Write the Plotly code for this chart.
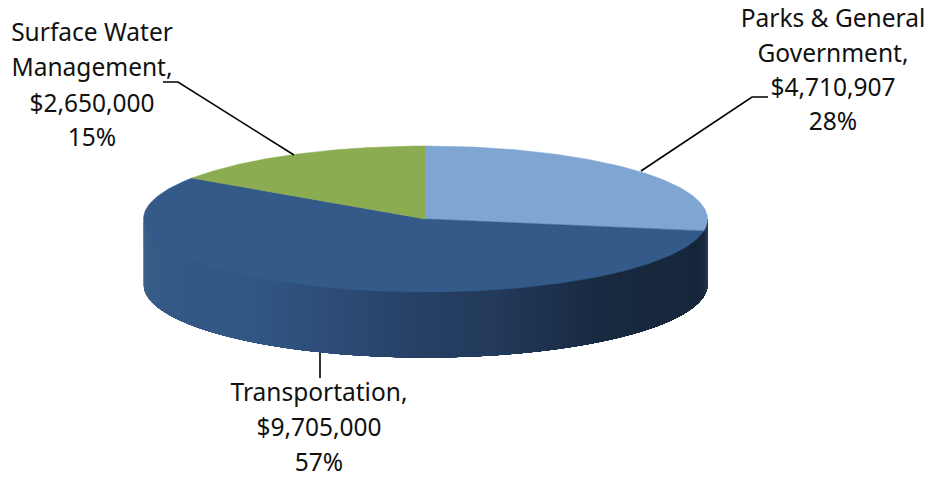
import numpy as np
import plotly.graph_objects as go

categories = ["Parks & General Government", "Transportation", "Surface Water Management"]
values = [4710907, 9705000, 2650000]
colors = ["#7FA6D3", "#335A88", "#8CAC52"]

label_lines = [
    ["Parks & General", "Government,", "$4,710,907", "28%"],
    ["Transportation,", "$9,705,000", "57%"],
    ["Surface Water", "Management,", "$2,650,000", "15%"],
]
label_x = [833, 319, 92]
label_y = [[21, 56, 90, 124], [395, 430, 465], [35, 70, 106, 140]]

leader_x = [[768, 752, 641], [320, 320], [163, 178, 294]]
leader_y = [[97, 97, 171], [353, 378], [82, 82, 155]]

# wall shading, stops along the horizontal extent of the pie
wall_stop_x = [143, 150, 165, 250, 300, 430, 500, 600, 698, 704, 708]
wall_stop_r = [62, 56, 52, 50, 47, 38, 34, 24, 22, 26, 48]
wall_stop_g = [98, 92, 89, 87, 80, 63, 57, 42, 38, 42, 66]
wall_stop_b = [136, 134, 135, 133, 124, 99, 90, 64, 58, 62, 88]

CX, CY, RX, RY, DEPTH = 425.5, 219.0, 282.0, 73.0, 65.5


def pt(theta):
    return CX + RX * np.sin(theta), CY - RY * np.cos(theta)


fig = go.Figure()

# side wall: widest piece first, each later piece stops further right, so no seams show
edges = np.linspace(np.pi / 2, 3 * np.pi / 2, 161)
for a0, a1 in reversed(list(zip(edges[:-1], edges[1:]))):
    th = np.linspace(np.pi / 2, a1, 80)
    x, y = pt(th)
    mid = pt((a0 + a1) / 2)[0]
    rgb = [int(round(np.interp(mid, wall_stop_x, c))) for c in (wall_stop_r, wall_stop_g, wall_stop_b)]
    col = f"rgb({rgb[0]},{rgb[1]},{rgb[2]})"
    fig.add_trace(go.Scatter(
        x=np.r_[x, x[::-1]], y=np.r_[y, y[::-1] + DEPTH],
        mode="lines", fill="toself", fillcolor=col,
        line=dict(color=col, width=0), hoverinfo="skip", showlegend=False,
    ))

# top faces, angles from the values
total = sum(values)
start = 0.0
for name, v, c in zip(categories, values, colors):
    end = start + 2 * np.pi * v / total
    th = np.linspace(start, end, 160)
    x, y = pt(th)
    fig.add_trace(go.Scatter(
        x=np.r_[CX, x, CX], y=np.r_[CY, y, CY],
        mode="lines", fill="toself", fillcolor=c,
        line=dict(color=c, width=0.5), name=name, showlegend=False,
        hovertemplate=f"{name}: ${v:,}<extra></extra>",
    ))
    start = end

# leader lines
for lx, ly in zip(leader_x, leader_y):
    fig.add_trace(go.Scatter(x=lx, y=ly, mode="lines", line=dict(color="black", width=1.6),
                             hoverinfo="skip", showlegend=False))

# labels
for lines, x0, ys in zip(label_lines, label_x, label_y):
    fig.add_trace(go.Scatter(
        x=[x0] * len(lines), y=ys, text=lines, mode="text", textposition="middle center",
        textfont=dict(family="Noto Sans", size=24.5, color="#111111"),
        hoverinfo="skip", showlegend=False,
    ))

fig.update_layout(
    width=928, height=478, margin=dict(l=0, r=0, t=0, b=0),
    paper_bgcolor="white", plot_bgcolor="white",
    xaxis=dict(range=[0, 928], visible=False, fixedrange=True),
    yaxis=dict(range=[478, 0], visible=False, fixedrange=True),
)
fig.write_html("out.html", config={"displayModeBar": False},
               post_script="document.body.style.margin='0';document.body.style.overflow='hidden';")
